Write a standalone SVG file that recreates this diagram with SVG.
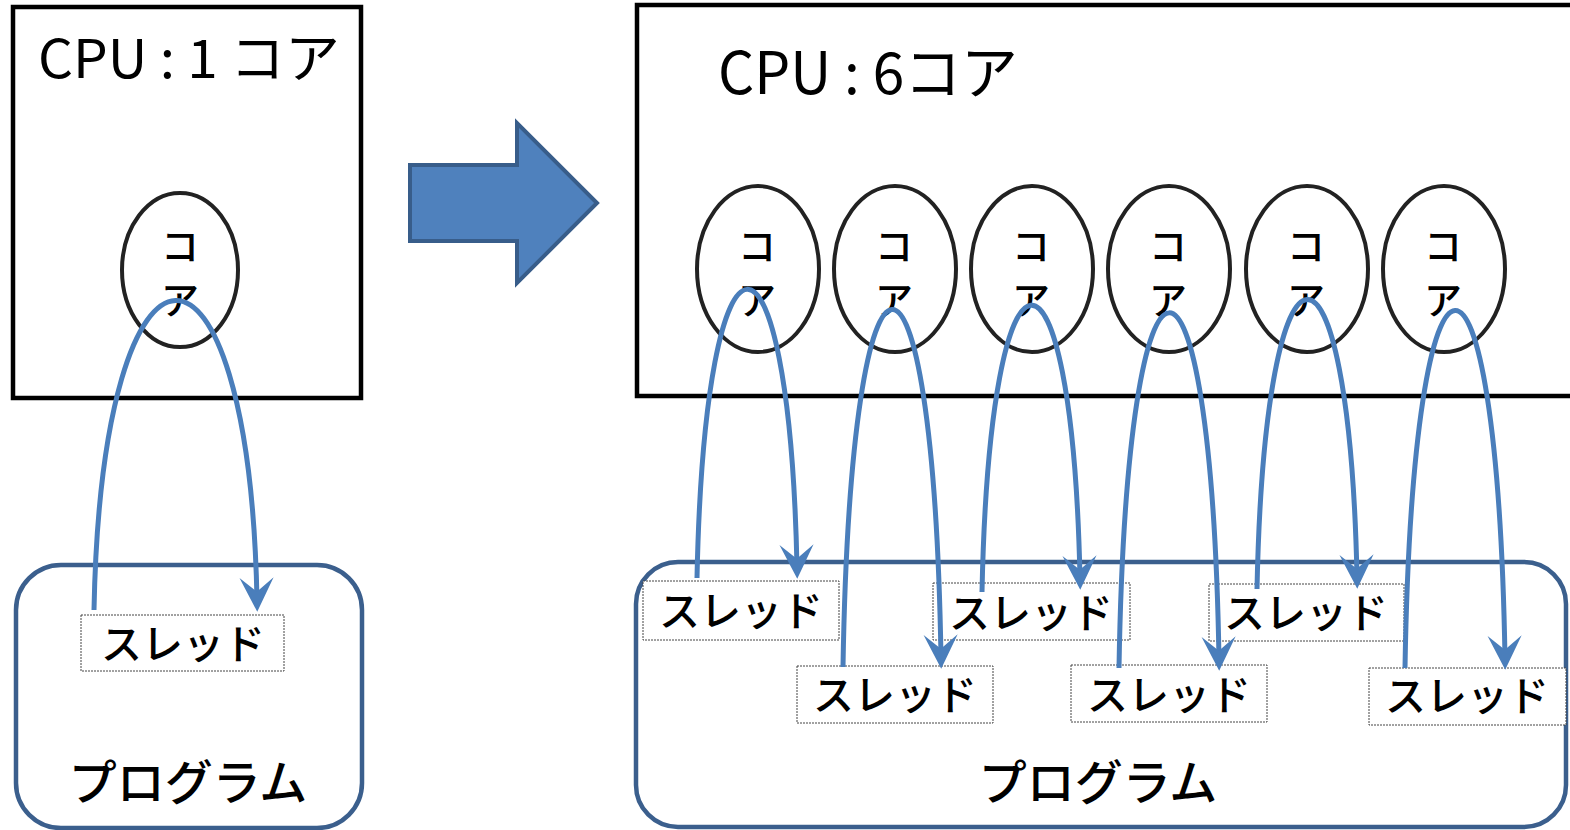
<svg xmlns="http://www.w3.org/2000/svg" width="1570" height="830" viewBox="0 0 1570 830">
<defs>
<style>
.cpu{fill:#fff;stroke:#000;stroke-width:4.5}
.prog{fill:#fff;stroke:#3b5f8d;stroke-width:4.5}
.core{fill:#fff;stroke:#222;stroke-width:4}
.thr{fill:#fff;stroke:#444;stroke-width:1;stroke-dasharray:2 1}
.t{font-family:"Noto Sans CJK JP","Noto Sans",sans-serif;fill:#000;font-weight:500}
.ttl{font-weight:400}
.core-t{font-size:38px;text-anchor:middle}
.thr-t{font-size:41px;text-anchor:middle}
.prog-t{font-size:48px;text-anchor:middle}
.link{fill:none;stroke:#4a7ebb;stroke-width:5;marker-end:url(#ah)}
</style>
<marker id="ah" markerUnits="userSpaceOnUse" markerWidth="40" markerHeight="40" viewBox="-22 -16 34 32" refX="0" refY="0" orient="auto">
<path d="M10,0 L-19,-14.5 L-7,0 L-19,14.5 Z" fill="#4a7ebb"/>
</marker>
</defs>

<g id="cpu1">
<rect class="cpu" x="13" y="7" width="348" height="391"/>
<text class="t ttl" x="38" y="78" font-size="53" textLength="302" lengthAdjust="spacingAndGlyphs">CPU : 1 コア</text>
</g>
<g id="core1">
<ellipse class="core" cx="180" cy="270" rx="58" ry="77"/>
<text class="t core-t" x="180" y="260">コ</text>
<text class="t core-t" x="180" y="314">ア</text>
</g>
<g id="prog1">
<rect class="prog" x="16" y="565" width="346" height="263" rx="45"/>
<text class="t prog-t" x="188" y="800">プログラム</text>
</g>
<g id="thread1">
<rect class="thr" x="81" y="615" width="203" height="56"/>
<text class="t thr-t" x="183" y="659">スレッド</text>
</g>

<g id="bigarrow">
<polygon points="410,165 517,165 517,123 597,203 517,283 517,241 410,241" fill="#4f81bd" stroke="#385d8a" stroke-width="4"/>
</g>

<g id="cpu6">
<rect class="cpu" x="637" y="5" width="1000" height="391"/>
<text class="t ttl" x="718" y="94" font-size="58" textLength="300" lengthAdjust="spacingAndGlyphs">CPU : 6コア</text>
</g>
<g id="core-a"><ellipse class="core" cx="758" cy="269" rx="61" ry="83"/><text class="t core-t" x="757" y="260">コ</text><text class="t core-t" x="757" y="314">ア</text></g>
<g id="core-b"><ellipse class="core" cx="895" cy="269" rx="61" ry="83"/><text class="t core-t" x="894" y="260">コ</text><text class="t core-t" x="894" y="314">ア</text></g>
<g id="core-c"><ellipse class="core" cx="1032" cy="269" rx="61" ry="83"/><text class="t core-t" x="1031" y="260">コ</text><text class="t core-t" x="1031" y="314">ア</text></g>
<g id="core-d"><ellipse class="core" cx="1169" cy="269" rx="61" ry="83"/><text class="t core-t" x="1168" y="260">コ</text><text class="t core-t" x="1168" y="314">ア</text></g>
<g id="core-e"><ellipse class="core" cx="1307" cy="269" rx="61" ry="83"/><text class="t core-t" x="1306" y="260">コ</text><text class="t core-t" x="1306" y="314">ア</text></g>
<g id="core-f"><ellipse class="core" cx="1444" cy="269" rx="61" ry="83"/><text class="t core-t" x="1443" y="260">コ</text><text class="t core-t" x="1443" y="314">ア</text></g>

<g id="prog6">
<rect class="prog" x="636" y="562" width="930" height="265" rx="42"/>
<text class="t prog-t" x="1098" y="800">プログラム</text>
</g>
<g id="thread-a"><rect class="thr" x="643" y="581" width="196" height="59"/><text class="t thr-t" x="741" y="626">スレッド</text></g>
<g id="thread-b"><rect class="thr" x="797" y="666" width="196" height="57"/><text class="t thr-t" x="895" y="710">スレッド</text></g>
<g id="thread-c"><rect class="thr" x="933" y="583" width="197" height="57"/><text class="t thr-t" x="1031" y="628">スレッド</text></g>
<g id="thread-d"><rect class="thr" x="1071" y="665" width="196" height="57"/><text class="t thr-t" x="1169" y="710">スレッド</text></g>
<g id="thread-e"><rect class="thr" x="1209" y="584" width="195" height="57"/><text class="t thr-t" x="1306" y="628">スレッド</text></g>
<g id="thread-f"><rect class="thr" x="1369" y="668" width="197" height="57"/><text class="t thr-t" x="1467" y="711">スレッド</text></g>

<g id="connectors">
<path class="link" d="M94,610 C102,199 249,199 257,600"/>
<path class="link" d="M697,578 C705,195 789,195 797,567"/>
<path class="link" d="M843,667 C851,192 933,192 941,657"/>
<path class="link" d="M982,592 C990,212 1072,212 1080,578"/>
<path class="link" d="M1119,668 C1127,196 1211,196 1219,659"/>
<path class="link" d="M1257,589 C1265,205 1349,205 1357,577"/>
<path class="link" d="M1405,668 C1413,193 1497,193 1505,658"/>
</g>
</svg>
